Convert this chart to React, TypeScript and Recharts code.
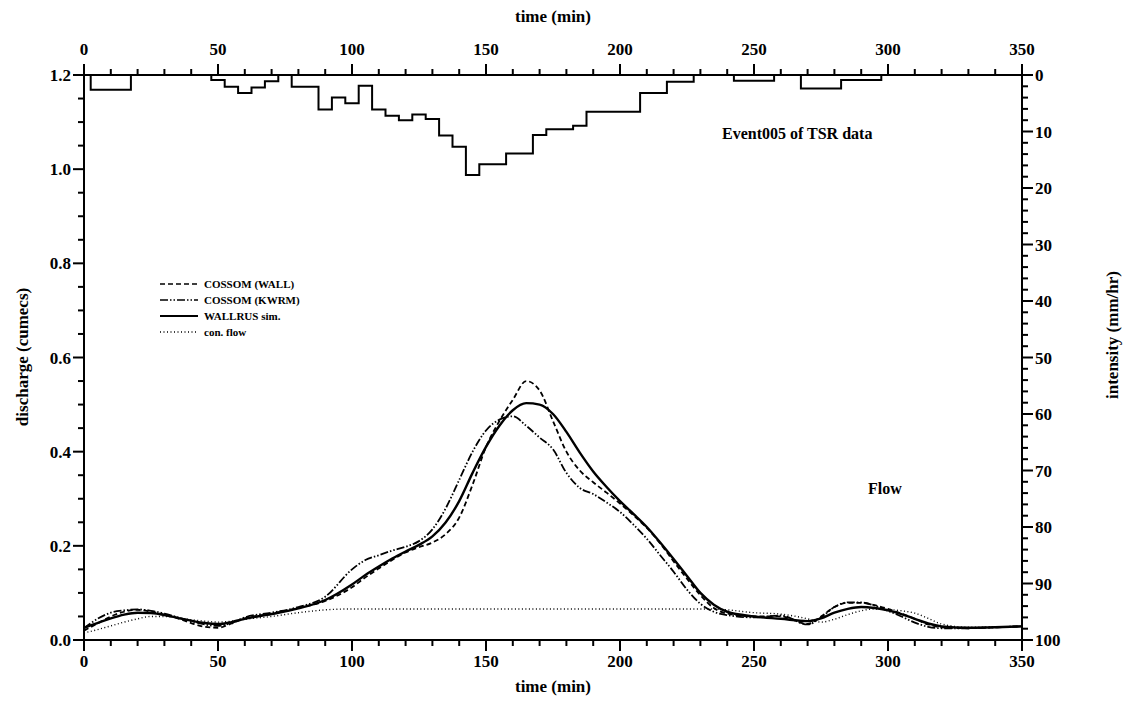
import React from 'react'
import { LineChart, Line, XAxis, YAxis } from 'recharts'

// flow hydrographs (cumecs), sampled at these times (min)
const times = [0, 5, 10, 15, 20, 25, 30, 35, 40, 45, 50, 55, 60, 70, 80, 90, 100, 105, 110, 115, 120, 125, 130, 135, 140, 145, 150, 155, 160, 165, 170, 175, 180, 185, 190, 195, 200, 205, 210, 215, 220, 225, 230, 235, 240, 250, 260, 270, 275, 280, 285, 290, 295, 300, 305, 310, 315, 320, 330, 340, 350]

const cossomWall = [0.02, 0.035, 0.05, 0.06, 0.064, 0.06, 0.054, 0.046, 0.036, 0.028, 0.026, 0.035, 0.046, 0.056, 0.068, 0.083, 0.112, 0.133, 0.152, 0.17, 0.186, 0.197, 0.207, 0.225, 0.26, 0.33, 0.41, 0.465, 0.51, 0.55, 0.53, 0.465, 0.4, 0.36, 0.335, 0.313, 0.29, 0.265, 0.238, 0.205, 0.167, 0.13, 0.095, 0.068, 0.056, 0.05, 0.05, 0.034, 0.05, 0.07, 0.079, 0.079, 0.074, 0.066, 0.056, 0.045, 0.033, 0.027, 0.025, 0.027, 0.029]

const cossomKwrm = [0.025, 0.045, 0.058, 0.063, 0.065, 0.062, 0.056, 0.048, 0.04, 0.033, 0.03, 0.036, 0.048, 0.058, 0.07, 0.092, 0.15, 0.17, 0.18, 0.19, 0.198, 0.21, 0.235, 0.28, 0.34, 0.4, 0.445, 0.468, 0.475, 0.455, 0.43, 0.405, 0.355, 0.323, 0.31, 0.292, 0.272, 0.245, 0.215, 0.18, 0.145, 0.107, 0.077, 0.06, 0.053, 0.048, 0.052, 0.033, 0.048, 0.07, 0.08, 0.08, 0.073, 0.062, 0.05, 0.037, 0.028, 0.025, 0.025, 0.027, 0.029]

const wallrusSim = [0.026, 0.036, 0.046, 0.054, 0.058, 0.057, 0.053, 0.047, 0.041, 0.036, 0.034, 0.038, 0.045, 0.055, 0.067, 0.085, 0.118, 0.138, 0.156, 0.173, 0.188, 0.202, 0.22, 0.25, 0.295, 0.355, 0.41, 0.455, 0.488, 0.503, 0.5, 0.48, 0.442, 0.398, 0.358, 0.325, 0.295, 0.268, 0.24, 0.207, 0.172, 0.136, 0.1, 0.075, 0.06, 0.05, 0.045, 0.04, 0.046, 0.058, 0.066, 0.07, 0.068, 0.063, 0.055, 0.045, 0.035, 0.029, 0.026, 0.027, 0.029]

const conFlow = [0.015, 0.022, 0.03, 0.038, 0.045, 0.05, 0.05, 0.047, 0.043, 0.04, 0.038, 0.04, 0.044, 0.05, 0.058, 0.064, 0.066, 0.066, 0.066, 0.066, 0.066, 0.066, 0.066, 0.066, 0.066, 0.066, 0.066, 0.066, 0.066, 0.066, 0.066, 0.066, 0.066, 0.066, 0.066, 0.066, 0.066, 0.066, 0.066, 0.066, 0.066, 0.066, 0.066, 0.066, 0.064, 0.058, 0.055, 0.045, 0.038, 0.044, 0.054, 0.062, 0.066, 0.065, 0.062, 0.057, 0.046, 0.034, 0.027, 0.028, 0.029]

// rainfall intensity (mm/hr), value holds from this time to the next one
const rainTimes = [0, 2.5, 17.5, 47.5, 52.5, 57.5, 62.5, 67.5, 72.5, 77.5, 87.5, 92.5, 97.5, 102.5, 107.5, 112.5, 117.5, 122.5, 127.5, 132.5, 137.5, 142.5, 147.5, 157.5, 167.5, 172.5, 182.5, 187.5, 207.5, 217.5, 227.5, 242.5, 257.5, 267.5, 282.5, 297.5, 350]
const rainIntensity = [0, 2.6, 0, 0.9, 2.1, 3.2, 2.2, 1.1, 0, 2.1, 6.1, 4.0, 5.0, 1.9, 6.1, 7.2, 8.0, 7.0, 7.8, 10.7, 12.7, 17.7, 15.8, 13.9, 10.6, 9.6, 9.0, 6.5, 3.2, 1.2, 0, 1.0, 0, 2.4, 0.9, 0, 0]

const timeMajor = [0, 50, 100, 150, 200, 250, 300, 350]
const dischargeMajor = ['0.0', '0.2', '0.4', '0.6', '0.8', '1.0', '1.2']
const intensityMajor = [0, 10, 20, 30, 40, 50, 60, 70, 80, 90, 100]

const timeTicks = Array.from({ length: 36 }, (_, i) => i * 10)
const dischargeTicks = Array.from({ length: 25 }, (_, i) => i / 20)
const intensityTicks = Array.from({ length: 51 }, (_, i) => i * 2)

const flowData = times.map((t, i) => ({
  t,
  wall: cossomWall[i],
  kwrm: cossomKwrm[i],
  sim: wallrusSim[i],
  con: conFlow[i],
}))
const rainData = rainTimes.map((t, i) => ({ t, rain: rainIntensity[i] }))

const FONT = '"Liberation Serif", "Times New Roman", serif'
const tickText = { fontFamily: FONT, fontWeight: 700, fontSize: 17, fill: '#000' }

function BottomTick({ x, y, payload }: any) {
  const major = timeMajor.includes(payload.value)
  return (
    <g>
      <line x1={x} y1={y} x2={x} y2={y + (major ? 11 : 6)} stroke="#000" strokeWidth={2} />
      {major && <text x={x} y={y + 27} textAnchor="middle" {...tickText}>{payload.value}</text>}
    </g>
  )
}

function TopTick({ x, y, payload }: any) {
  const major = timeMajor.includes(payload.value)
  return (
    <g>
      <line x1={x} y1={y} x2={x} y2={y - (major ? 11 : 6)} stroke="#000" strokeWidth={2} />
      {major && <text x={x} y={y - 20} textAnchor="middle" {...tickText}>{payload.value}</text>}
    </g>
  )
}

function LeftTick({ x, y, payload }: any) {
  const label = payload.value.toFixed(1)
  const major = Math.round(payload.value * 100) % 20 === 0 && dischargeMajor.includes(label)
  return (
    <g>
      <line x1={x} y1={y} x2={x - (major ? 11 : 6)} y2={y} stroke="#000" strokeWidth={2} />
      {major && <text x={x - 13} y={y + 6} textAnchor="end" {...tickText}>{label}</text>}
    </g>
  )
}

function RightTick({ x, y, payload }: any) {
  const major = intensityMajor.includes(payload.value)
  return (
    <g>
      <line x1={x} y1={y} x2={x + (major ? 11 : 6)} y2={y} stroke="#000" strokeWidth={2} />
      {major && <text x={x + 13} y={y + 6} textAnchor="start" {...tickText}>{payload.value}</text>}
    </g>
  )
}

const legendItems = [
  { name: 'COSSOM (WALL)', dash: '5 3', width: 1.6 },
  { name: 'COSSOM (KWRM)', dash: '8 2 1.5 2 1.5 2', width: 1.6 },
  { name: 'WALLRUS sim.', dash: undefined, width: 2.2 },
  { name: 'con. flow', dash: '1 2.5', width: 1.4 },
]

const axisLine = { stroke: '#000', strokeWidth: 2 }

export default function App() {
  return (
    <div style={{ position: 'absolute', left: 0, top: 0, width: 1133, height: 711, background: '#fff' }}>
      <LineChart width={1133} height={711} data={flowData} margin={{ top: 0, right: 0, bottom: 0, left: 0 }}>
        <XAxis
          xAxisId="bottom"
          dataKey="t"
          type="number"
          domain={[0, 350]}
          allowDataOverflow
          ticks={timeTicks}
          interval={0}
          height={71}
          axisLine={axisLine}
          tickLine={false}
          tickSize={0}
          tickMargin={0}
          tick={<BottomTick />}
        />
        <XAxis
          xAxisId="top"
          orientation="top"
          dataKey="t"
          type="number"
          domain={[0, 350]}
          allowDataOverflow
          ticks={timeTicks}
          interval={0}
          height={75}
          axisLine={axisLine}
          tickLine={false}
          tickSize={0}
          tickMargin={0}
          tick={<TopTick />}
        />
        <YAxis
          yAxisId="left"
          type="number"
          domain={[0, 1.2]}
          allowDataOverflow
          ticks={dischargeTicks}
          interval={0}
          width={84}
          axisLine={axisLine}
          tickLine={false}
          tickSize={0}
          tickMargin={0}
          tick={<LeftTick />}
        />
        <YAxis
          yAxisId="right"
          orientation="right"
          type="number"
          reversed
          domain={[0, 100]}
          allowDataOverflow
          ticks={intensityTicks}
          interval={0}
          width={111}
          axisLine={axisLine}
          tickLine={false}
          tickSize={0}
          tickMargin={0}
          tick={<RightTick />}
        />
        <Line xAxisId="top" yAxisId="right" data={rainData} dataKey="rain" type="stepAfter" stroke="#000" strokeWidth={2} dot={false} isAnimationActive={false} />
        <Line xAxisId="bottom" yAxisId="left" dataKey="con" type="monotone" stroke="#000" strokeWidth={1.4} strokeDasharray="1 2.5" dot={false} isAnimationActive={false} />
        <Line xAxisId="bottom" yAxisId="left" dataKey="kwrm" type="monotone" stroke="#000" strokeWidth={1.8} strokeDasharray="8 2 1.5 2 1.5 2" dot={false} isAnimationActive={false} />
        <Line xAxisId="bottom" yAxisId="left" dataKey="wall" type="monotone" stroke="#000" strokeWidth={1.8} strokeDasharray="5 3" dot={false} isAnimationActive={false} />
        <Line xAxisId="bottom" yAxisId="left" dataKey="sim" type="monotone" stroke="#000" strokeWidth={2.4} dot={false} isAnimationActive={false} />
      </LineChart>

      <svg width={1133} height={711} style={{ position: 'absolute', left: 0, top: 0, pointerEvents: 'none' }}>
        <g fontFamily={FONT} fontWeight={700} fill="#000">
          <text x={553} y={22} textAnchor="middle" fontSize={17}>time (min)</text>
          <text x={553} y={692} textAnchor="middle" fontSize={17}>time (min)</text>
          <text transform="translate(28,357) rotate(-90)" textAnchor="middle" fontSize={17}>discharge (cumecs)</text>
          <text transform="translate(1118,335) rotate(-90)" textAnchor="middle" fontSize={17}>intensity (mm/hr)</text>
          <text x={722} y={139} fontSize={16}>Event005 of TSR data</text>
          <text x={868} y={494} fontSize={16}>Flow</text>
          {legendItems.map((item, i) => (
            <g key={item.name}>
              <line x1={160} x2={198} y1={284 + i * 16} y2={284 + i * 16} stroke="#000" strokeWidth={item.width} strokeDasharray={item.dash} />
              <text x={204} y={288 + i * 16} fontSize={11}>{item.name}</text>
            </g>
          ))}
        </g>
      </svg>
    </div>
  )
}
